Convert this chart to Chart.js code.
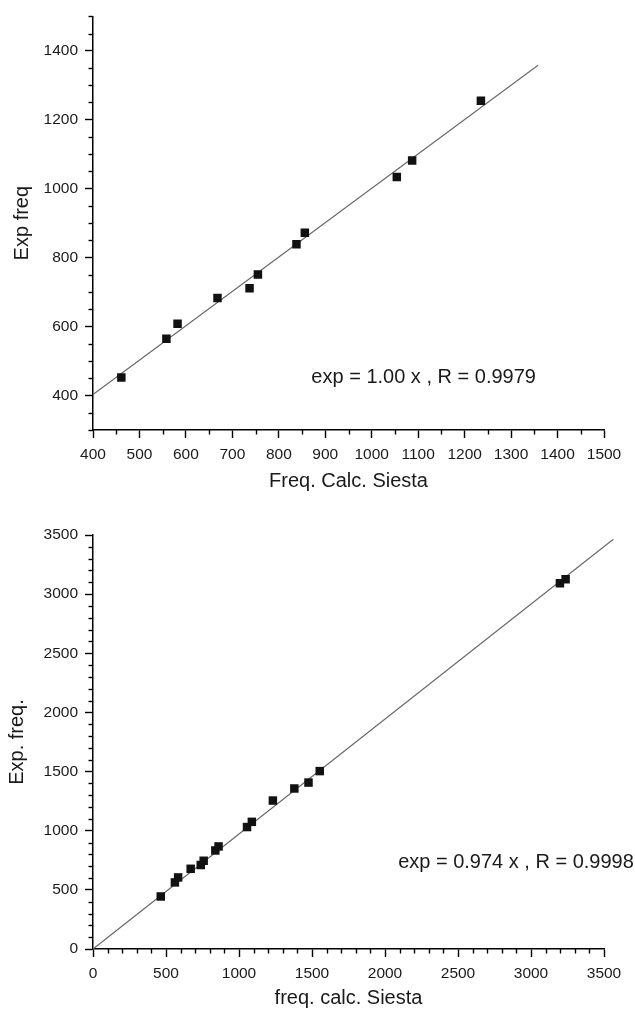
<!DOCTYPE html>
<html>
<head>
<meta charset="utf-8">
<script src="https://cdn.jsdelivr.net/npm/chart.js@4.4.0/dist/chart.umd.min.js"></script>
<style>
  body { margin: 0; background: #fff; }
  #wrap { position: relative; width: 635px; height: 1011px; }
  .box { position: absolute; left: 0; width: 635px; }
  #top { top: 0; height: 500px; }
  #bottom { top: 500px; height: 511px; }
</style>
</head>
<body>
<div id="wrap">
  <div class="box" id="top"><canvas id="chartTop"></canvas></div>
  <div class="box" id="bottom"><canvas id="chartBottom"></canvas></div>
</div>
<script>
const FONT = '"Liberation Sans", Arial, Helvetica, sans-serif';
const INK = '#1a1a1a';

// Top panel: Freq. Calc. Siesta vs Exp freq
const topCalc = [461, 558, 582, 668, 737, 755, 838, 856, 1054, 1087, 1235];
const topExp  = [452, 565, 608, 683, 711, 751, 839, 872, 1034, 1082, 1255];
const topFitX = [400, 1358];
const topFitY = [403, 1358];
const topXLabels = [400, 500, 600, 700, 800, 900, 1000, 1100, 1200, 1300, 1400, 1500];
const topYLabels = [400, 600, 800, 1000, 1200, 1400];

// Bottom panel: freq. calc. Siesta vs Exp. freq.
const botCalc = [464, 561, 583, 669, 738, 758, 838, 860, 1055, 1088, 1232, 1379, 1476, 1553, 3198, 3237];
const botExp  = [444, 563, 605, 678, 710, 746, 833, 867, 1031, 1075, 1255, 1357, 1407, 1504, 3092, 3126];
const botFitX = [0, 3564];
const botFitY = [0, 3464];
const botXLabels = [0, 500, 1000, 1500, 2000, 2500, 3000, 3500];
const botYLabels = [0, 500, 1000, 1500, 2000, 2500, 3000, 3500];

// short ticks between the labelled ones
const minorTicks = {
  id: 'minorTicks',
  afterDraw(chart, args, opts) {
    const ctx = chart.ctx;
    ctx.save();
    ctx.strokeStyle = '#000';
    ctx.lineWidth = 1.4;
    ['x', 'y'].forEach(id => {
      const s = chart.scales[id];
      const major = opts[id];
      s.ticks.forEach(t => {
        if (major.includes(t.value)) return;
        const p = Math.round(s.getPixelForValue(t.value)) + 0.5;
        ctx.beginPath();
        if (id === 'x') { ctx.moveTo(p, s.top); ctx.lineTo(p, s.top + 4.5); }
        else { ctx.moveTo(s.right, p); ctx.lineTo(s.right - 4.5, p); }
        ctx.stroke();
      });
    });
    ctx.restore();
  }
};

// regression text, anchored in data units
const fitLabel = {
  id: 'fitLabel',
  afterDraw(chart, args, opts) {
    const {ctx, scales: {x, y}} = chart;
    ctx.save();
    ctx.font = '20px ' + FONT;
    ctx.fillStyle = INK;
    ctx.textBaseline = 'alphabetic';
    ctx.textAlign = 'left';
    ctx.fillText(opts.text, x.getPixelForValue(opts.x), y.getPixelForValue(opts.y));
    ctx.restore();
  }
};

function axis(min, max, step, labels, title, titlePad, fit) {
  return {
    type: 'linear', min: min, max: max,
    afterFit: fit,
    border: { display: true, color: '#000', width: 1.5 },
    grid: {
      display: true, drawOnChartArea: false, drawTicks: true,
      tickLength: 8, tickWidth: 1.4,
      tickColor: c => (c.tick && labels.includes(c.tick.value)) ? '#000' : 'rgba(0,0,0,0)'
    },
    ticks: {
      stepSize: step, autoSkip: false, maxRotation: 0, minRotation: 0,
      padding: 7, color: INK, font: { family: FONT, size: 15.5 },
      callback: v => labels.includes(v) ? String(v) : ''
    },
    title: { display: true, text: title, color: INK, font: { family: FONT, size: 20 }, padding: titlePad }
  };
}

function makeChart(id, d) {
  return new Chart(document.getElementById(id), {
    type: 'scatter',
    data: {
      datasets: [
        {
          data: d.fitX.map((v, i) => ({ x: v, y: d.fitY[i] })),
          showLine: true, borderColor: '#666', borderWidth: 1.1,
          pointRadius: 0, clip: false, order: 2
        },
        {
          data: d.calc.map((v, i) => ({ x: v, y: d.exp[i] })),
          pointStyle: 'rect', pointRadius: 6, backgroundColor: '#111',
          borderWidth: 0, order: 1
        }
      ]
    },
    options: {
      responsive: true, maintainAspectRatio: false, animation: false,
      layout: { padding: d.padding },
      plugins: {
        legend: { display: false },
        tooltip: { enabled: false },
        minorTicks: { x: d.xLabels, y: d.yLabels },
        fitLabel: d.note
      },
      scales: {
        x: axis(d.x[0], d.x[1], d.x[2], d.xLabels, d.xTitle, { top: 0, bottom: 0 }, s => { s.height = d.xHeight; }),
        y: axis(d.y[0], d.y[1], d.y[2], d.yLabels, d.yTitle, { top: d.yTitlePad, bottom: 0 }, s => { s.width = 93; })
      }
    },
    plugins: [minorTicks, fitLabel]
  });
}

makeChart('chartTop', {
  calc: topCalc, exp: topExp, fitX: topFitX, fitY: topFitY,
  x: [400, 1500, 50], y: [300, 1500, 50],
  xLabels: topXLabels, yLabels: topYLabels,
  xTitle: 'Freq. Calc. Siesta', yTitle: 'Exp freq',
  xHeight: 63, yTitlePad: 10,
  padding: { top: 14, right: 31, bottom: 7, left: 0 },
  note: { text: 'exp = 1.00 x , R = 0.9979', x: 870, y: 435 }
});

makeChart('chartBottom', {
  calc: botCalc, exp: botExp, fitX: botFitX, fitY: botFitY,
  x: [0, 3500, 100], y: [0, 3500, 100],
  xLabels: botXLabels, yLabels: botYLabels,
  xTitle: 'freq. calc. Siesta', yTitle: 'Exp. freq.',
  xHeight: 61, yTitlePad: 5,
  padding: { top: 35, right: 31, bottom: 1, left: 0 },
  note: { text: 'exp = 0.974 x , R = 0.9998', x: 2090, y: 682 }
});
</script>
</body>
</html>
